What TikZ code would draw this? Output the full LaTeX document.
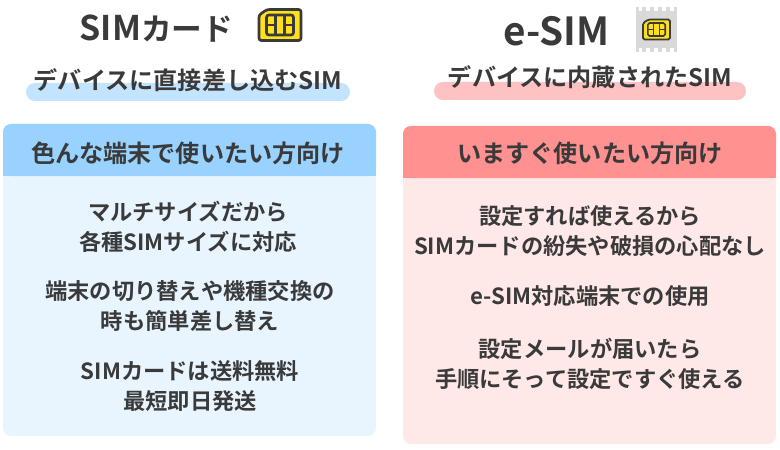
\documentclass[tikz,border=0pt]{standalone}
\usepackage{fontspec}
\setmainfont{Noto Sans CJK JP}[BoldFont={* Bold}]
\usetikzlibrary{positioning}
\definecolor{inkgray}{HTML}{3A3A3A}
\definecolor{blueHead}{HTML}{99D2FF}
\definecolor{blueBody}{HTML}{E8F5FF}
\definecolor{blueBar}{HTML}{C2E4FF}
\definecolor{redHead}{HTML}{FF9191}
\definecolor{redBody}{HTML}{FFE8E8}
\definecolor{redBar}{HTML}{FFC2C2}
\definecolor{simYellow}{HTML}{FFE01B}
\definecolor{simGray}{HTML}{D9D9D9}
\tikzset{
  txt/.style = {text=inkgray, inner sep=0pt, align=center, font=\bfseries\fontsize{16.7}{22.5}\selectfont},
  title/.style = {txt, font=\bfseries\fontsize{23}{30}\selectfont},
  subtitle/.style = {txt, font=\bfseries\fontsize{18.1}{20}\selectfont},
  head/.style = {txt, font=\bfseries\fontsize{18.1}{20}\selectfont},
  pics/simchip/.style = {code = {
    \draw[inkgray, line width=2pt*#1, fill=simYellow, rounded corners=1.8pt*#1]
      (-21*#1,-10*#1) -- (-13*#1,-15.5*#1) -- (21*#1,-15.5*#1) -- (21*#1,15.5*#1) -- (-21*#1,15.5*#1) -- cycle;
    \draw[inkgray, line width=2pt*#1, rounded corners=1.8pt*#1]
      (-13.5*#1,-10*#1) rectangle (13.5*#1,10*#1);
    \draw[inkgray, line width=2pt*#1]
      (-4.5*#1,-10*#1) -- (-4.5*#1,10*#1) (4.5*#1,-10*#1) -- (4.5*#1,10*#1)
      (-13.5*#1,0) -- (-4.5*#1,0) (4.5*#1,0) -- (13.5*#1,0);
  }}
}
\begin{document}
\begin{tikzpicture}[x=0.75pt, y=-0.75pt]
  \useasboundingbox (0,0) rectangle (780,449);

  % left panel
  \fill[blueBar, rounded corners=6.7pt] (26,83) rectangle (350,101);
  \fill[blueBody, rounded corners=6pt] (3,124) rectangle (376,436);
  \fill[blueHead, rounded corners=6pt] (3,176) -- (3,124) -- (376,124) -- (376,176) -- cycle;
  \fill[blueHead] (3,160) rectangle (376,176);

  \node[title] (simTitle) at (156.5,29) {{\fontsize{25.5}{30}\selectfont SIM}カード};
  \pic at (280,25) {simchip=1};
  \node[subtitle] (simSub) at (188,80) {デバイスに直接差し込むSIM};
  \node[head] (simHead) at (188,153) {色んな端末で使いたい方向け};
  \node[txt] (simA) at (188,227) {マルチサイズだから\\各種SIMサイズに対応};
  \node[txt] (simB) at (190,306) {端末の切り替えや機種交換の\\時も簡単差し替え};
  \node[txt] (simC) at (190,386) {SIMカードは送料無料\\最短即日発送};

  % right panel
  \fill[redBar, rounded corners=6.7pt] (434,82) rectangle (746,100);
  \fill[redBody, rounded corners=6pt] (403,126) rectangle (776,444);
  \fill[redHead, rounded corners=6pt] (403,178) -- (403,126) -- (776,126) -- (776,178) -- cycle;
  \fill[redHead] (403,160) rectangle (776,178);

  \node[title, font=\bfseries\fontsize{29}{30}\selectfont] (esimTitle) at (556.5,31) {e-SIM};
  \fill[simGray] (636,7) rectangle (677,52);
  \foreach \i in {0,1,2,3,4} {
    \fill[white] (638.5+\i*7.9,7) rectangle ++(3.6,4);
    \fill[white] (638.5+\i*7.9,48) rectangle ++(3.6,4);
  }
  \pic at (656.5,29.5) {simchip=0.64};
  \node[subtitle] (esimSub) at (590,77) {デバイスに内蔵されたSIM};
  \node[head] (esimHead) at (590,153) {いますぐ使いたい方向け};
  \node[txt] (esimA) at (590,231) {設定すれば使えるから\\SIMカードの紛失や破損の心配なし};
  \node[txt] (esimB) at (590,296) {e-SIM対応端末での使用};
  \node[txt] (esimC) at (590,364) {設定メールが届いたら\\手順にそって設定ですぐ使える};
\end{tikzpicture}
\end{document}
